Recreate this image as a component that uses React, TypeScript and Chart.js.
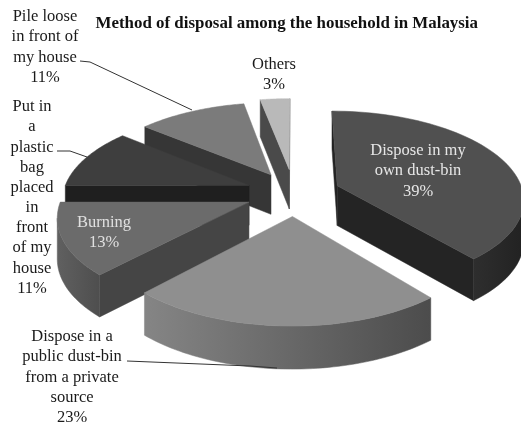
import React, { useEffect, useRef } from "react";
import { Chart, registerables } from "chart.js";

Chart.register(...registerables);

const titleText = "Method of disposal among the household in Malaysia";
const categories: string[][] = [
  ["Dispose in my", "own dust-bin"],
  ["Dispose in a", "public dust-bin", "from a private", "source"],
  ["Burning"],
  ["Put in", "a", "plastic", "bag", "placed", "in", "front", "of my", "house"],
  ["Pile loose", "in front of", "my house"],
  ["Others"],
];
const shares = [39, 23, 13, 11, 11, 3];
const topColors = ["#505050", "#8f8f8f", "#6b6b6b", "#3e3e3e", "#7b7b7b", "#b9b9b9"];
const radialColors = ["#242424", "#6a6a6a", "#454545", "#1f1f1f", "#363636", "#4a4a4a"];
const wallLeftColors = ["#2e2e2e", "#858585", "#606060", "#2e2e2e", "#5a5a5a", "#888888"];
const wallRightColors = ["#222222", "#4c4c4c", "#4e4e4e", "#2e2e2e", "#5a5a5a", "#888888"];
const explode = [25, 26, 26, 26, 25, 28];

const labelAnchors = [
  { x: 418, y: 151, color: "#e6e6e6" },
  { x: 72, y: 337, color: "#1a1a1a" },
  { x: 104, y: 223, color: "#e0e0e0" },
  { x: 32, y: 107, color: "#1a1a1a" },
  { x: 45, y: 17, color: "#1a1a1a" },
  { x: 274, y: 65, color: "#1a1a1a" },
];
const leaders = [
  [[80, 61], [90, 62], [192, 110]],
  [[57, 151], [70, 151], [87, 157]],
  [[127, 361], [250, 366], [277, 368]],
];

const CX = 294, CY = 193, RX = 186, RY = 87, PERSP = 0.14, DEPTH = 40;
const SERIF = '"Liberation Serif", "Times New Roman", serif';

function project(u: number, v: number, drop = 0) {
  const w = 1 - PERSP * v;
  return { x: CX + (RX * u) / w, y: CY + (RY * v) / w + drop * (1 + 0.06 * v) };
}

const pie3d = {
  id: "pie3d",
  beforeDatasetDraw(chart: any) {
    const ctx: CanvasRenderingContext2D = chart.ctx;
    const arcs = chart.getDatasetMeta(0).data.map((el: any, i: number) => {
      const a0 = el.startAngle + Math.PI / 2;
      const a1 = el.endAngle + Math.PI / 2;
      const mid = (a0 + a1) / 2;
      const off = (el.options.offset || 0) / 100;
      return { i, a0, a1, mid, ou: off * Math.sin(mid), ov: -off * Math.cos(mid) };
    });
    arcs.sort((p: any, q: any) => -Math.cos(p.mid) - -Math.cos(q.mid));
    const poly = (pts: { x: number; y: number }[], fill: any) => {
      ctx.beginPath();
      pts.forEach((p, k) => (k ? ctx.lineTo(p.x, p.y) : ctx.moveTo(p.x, p.y)));
      ctx.closePath();
      ctx.fillStyle = fill;
      ctx.strokeStyle = fill;
      ctx.lineWidth = 0.5;
      ctx.fill();
      ctx.stroke();
    };
    for (const s of arcs) {
      const steps = 60;
      const rim: [number, number][] = [];
      for (let k = 0; k <= steps; k++) {
        const t = s.a0 + ((s.a1 - s.a0) * k) / steps;
        rim.push([s.ou + Math.sin(t), s.ov - Math.cos(t)]);
      }
      const apex: [number, number] = [s.ou, s.ov];
      const P = (q: [number, number], d = 0) => project(q[0], q[1], d);
      const quad = (a: [number, number], b: [number, number], fill: string) => {
        if (P(b).x < P(a).x) poly([P(a), P(b), P(b, DEPTH), P(a, DEPTH)], fill);
      };
      quad(apex, rim[0], radialColors[s.i]);
      quad(rim[steps], apex, radialColors[s.i]);
      const run = rim.filter((q, k) => k < steps && P(rim[k + 1]).x < P(q).x);
      if (run.length) {
        const idx = rim.indexOf(run[run.length - 1]);
        run.push(rim[idx + 1]);
        const xs = run.map((q) => P(q).x);
        const g = ctx.createLinearGradient(Math.min(...xs), 0, Math.max(...xs), 0);
        g.addColorStop(0, wallLeftColors[s.i]);
        g.addColorStop(1, wallRightColors[s.i]);
        poly([...run.map((q) => P(q)), ...run.slice().reverse().map((q) => P(q, DEPTH))], g);
      }
      poly([P(apex), ...rim.map((q) => P(q))], topColors[s.i]);
    }
    return false;
  },
  afterDraw(chart: any) {
    const ctx: CanvasRenderingContext2D = chart.ctx;
    ctx.save();
    ctx.strokeStyle = "#333333";
    ctx.lineWidth = 1;
    for (const l of leaders) {
      ctx.beginPath();
      l.forEach((p, k) => (k ? ctx.lineTo(p[0], p[1]) : ctx.moveTo(p[0], p[1])));
      ctx.stroke();
    }
    ctx.font = `16.5px ${SERIF}`;
    ctx.textAlign = "center";
    ctx.textBaseline = "middle";
    chart.data.labels.forEach((lines: string[], i: number) => {
      const a = labelAnchors[i];
      ctx.fillStyle = a.color;
      [...lines, `${chart.data.datasets[0].data[i]}%`].forEach((t, k) => {
        ctx.fillText(t, a.x, a.y + k * 20.15);
      });
    });
    ctx.restore();
  },
};

export default function App() {
  const ref = useRef<HTMLCanvasElement>(null);
  useEffect(() => {
    const chart = new Chart(ref.current!, {
      type: "pie",
      data: {
        labels: categories as any,
        datasets: [
          {
            data: shares,
            backgroundColor: topColors,
            offset: explode,
            borderWidth: 0,
          },
        ],
      },
      options: {
        animation: false,
        responsive: false,
        layout: { padding: { right: 43 } },
        plugins: {
          legend: { display: false },
          tooltip: { enabled: false },
          title: {
            display: true,
            text: titleText,
            align: "end",
            color: "#111111",
            font: { family: SERIF, size: 16.9, weight: "bold" },
            padding: { top: 14, bottom: 0 },
          },
        },
      },
      plugins: [pie3d],
    } as any);
    return () => chart.destroy();
  }, []);
  return (
    <canvas
      ref={ref}
      width={521}
      height={424}
      style={{ position: "fixed", left: 0, top: 0, display: "block", background: "#fff" }}
    />
  );
}
